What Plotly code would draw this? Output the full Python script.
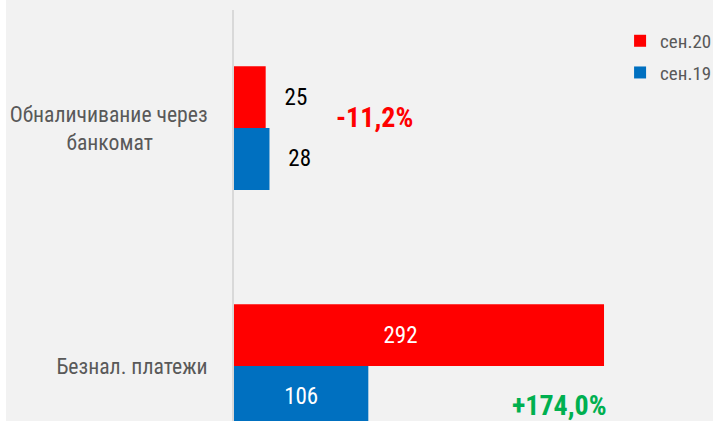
import plotly.graph_objects as go

NB = "\u00a0"
categories = ["Обналичивание через<br>банкомат" + NB * 11, "Безнал. платежи"]
series_names = ["сен.20", "сен.19"]
values_sep20 = [25, 292]
values_sep19 = [28, 106]
changes = ["-11,2%", "+174,0%"]
change_colors = ["#FF0000", "#00B050"]

FONT = "Roboto Condensed, DejaVu Sans Condensed, sans-serif"


def positions(vals):
    return ["inside" if v > 60 else "outside" for v in vals]


def labels(vals, pad_big=""):
    return [(NB * 3 + str(v)) if v <= 60 else (str(v) + pad_big) for v in vals]


fig = go.Figure()
fig.add_trace(go.Bar(
    y=categories, x=values_sep20, name=series_names[0], orientation="h",
    marker=dict(color="#FF0000", line=dict(width=0)),
    text=labels(values_sep20, NB * 7), textposition=positions(values_sep20),
    insidetextanchor="middle", textangle=0,
    insidetextfont=dict(color="white", size=23, family=FONT),
    outsidetextfont=dict(color="black", size=23, family=FONT),
    legendgroup="a", cliponaxis=True,
))
fig.add_trace(go.Bar(
    y=categories, x=values_sep19, name=series_names[1], orientation="h",
    marker=dict(color="#0070C0", line=dict(width=0)),
    text=labels(values_sep19), textposition=positions(values_sep19),
    insidetextanchor="middle", textangle=0,
    insidetextfont=dict(color="white", size=23, family=FONT),
    outsidetextfont=dict(color="black", size=23, family=FONT),
    legendgroup="b", cliponaxis=True,
))

# change annotations
fig.add_annotation(x=110.5, y=0, xref="x", yref="y", yshift=11, text=changes[0],
                   showarrow=False, xanchor="center",
                   font=dict(color=change_colors[0], size=28, family=FONT, weight="bold"))
fig.add_annotation(x=256.5, y=1, xref="x", yref="y", yshift=-39, text=changes[1],
                   showarrow=False, xanchor="center",
                   font=dict(color=change_colors[1], size=28, family=FONT, weight="bold"))

# white left strip
fig.add_shape(type="rect", xref="paper", yref="paper", x0=-234 / 479, x1=-228 / 479,
              y0=-0.01, y1=1.05, fillcolor="white", line=dict(width=0), layer="below")

fig.update_layout(
    width=713, height=421,
    margin=dict(l=234, r=0, t=10, b=0, pad=0, autoexpand=False),
    paper_bgcolor="#F2F2F2", plot_bgcolor="#F2F2F2",
    barmode="group", bargap=0.48, bargroupgap=0,
    font=dict(family=FONT, color="#595959"),
    showlegend=True,
    legend=dict(x=0.806, y=0.971, xanchor="left", yanchor="top", bgcolor="rgba(0,0,0,0)",
                font=dict(size=19, color="#595959", family=FONT), tracegroupgap=4,
                itemwidth=30),
    xaxis=dict(range=[0, 378], showgrid=False, zeroline=False, showticklabels=False,
               showline=False, fixedrange=True),
    yaxis=dict(range=[1.231, -0.496], showgrid=False, zeroline=False, showline=True,
               linecolor="#D9D9D9", linewidth=2, ticks="outside", ticklen=20,
               tickcolor="rgba(0,0,0,0)", tickfont=dict(size=21.7, color="#595959", family=FONT),
               type="category", autorange=False),
)

fig.write_html("out.html")
